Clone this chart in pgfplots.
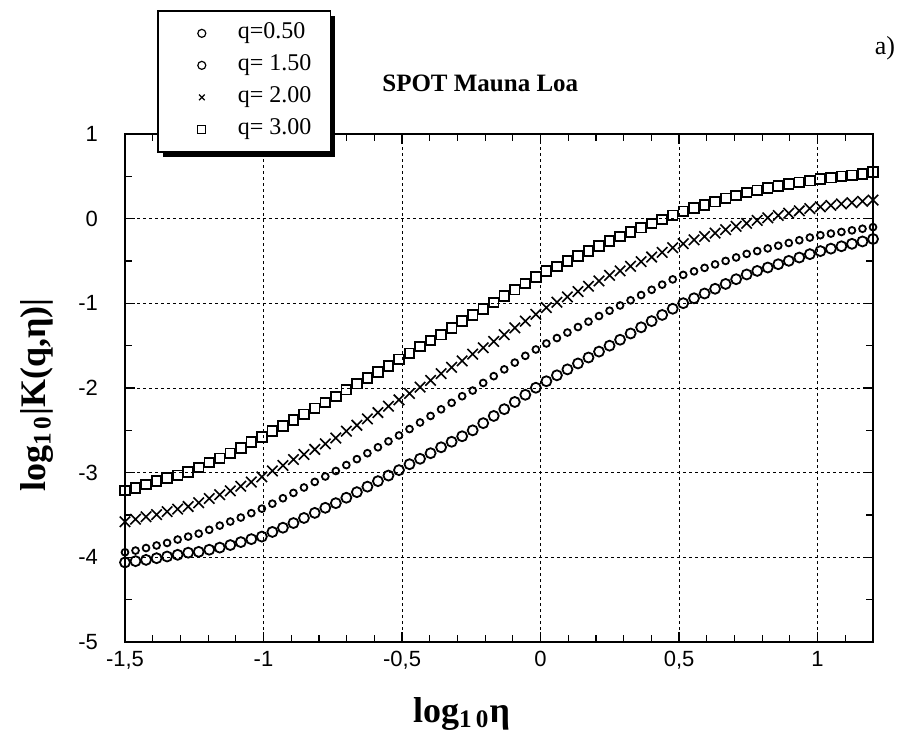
\documentclass[border=0pt]{standalone}
\usepackage{fontspec}
\setmainfont{Liberation Serif}
\newfontfamily\arial{Liberation Sans}
\usepackage{pgfplots}
\pgfplotsset{compat=1.18}
\usepackage{pgfplotstable}
\usetikzlibrary{shadows}

% log10 eta, then log10|K(q,eta)| for q = 0.5, 1.5, 2, 3
\pgfplotstableread{
x      q05     q15     q20     q30
-1.500 -4.06   -3.94   -3.58   -3.21
-1.462 -4.045  -3.92   -3.55   -3.18
-1.424 -4.03   -3.89   -3.52   -3.14
-1.386 -4.01   -3.86   -3.495  -3.10
-1.348 -3.99   -3.83   -3.46   -3.065
-1.310 -3.97   -3.79   -3.43   -3.03
-1.272 -3.945  -3.755  -3.40   -2.99
-1.234 -3.935  -3.72   -3.355  -2.94
-1.196 -3.91   -3.675  -3.305  -2.88
-1.158 -3.885  -3.625  -3.26   -2.83
-1.120 -3.855  -3.577  -3.215  -2.77
-1.082 -3.82   -3.53   -3.16   -2.71
-1.044 -3.785  -3.478  -3.11   -2.64
-1.006 -3.755  -3.425  -3.05   -2.58
-0.968 -3.70   -3.366  -2.98   -2.51
-0.930 -3.65   -3.302  -2.915  -2.45
-0.892 -3.595  -3.239  -2.845  -2.38
-0.854 -3.535  -3.175  -2.785  -2.31
-0.815 -3.475  -3.109  -2.725  -2.24
-0.777 -3.415  -3.045  -2.66   -2.17
-0.739 -3.36   -2.98   -2.59   -2.10
-0.701 -3.296  -2.91   -2.51   -2.02
-0.663 -3.23   -2.84   -2.44   -1.95
-0.625 -3.165  -2.77   -2.365  -1.88
-0.587 -3.10   -2.70   -2.29   -1.81
-0.549 -3.034  -2.63   -2.215  -1.74
-0.511 -2.97   -2.56   -2.14   -1.66
-0.473 -2.90   -2.485  -2.065  -1.59
-0.435 -2.836  -2.407  -1.99   -1.51
-0.397 -2.77   -2.33   -1.91   -1.44
-0.359 -2.70   -2.252  -1.83   -1.37
-0.321 -2.635  -2.175  -1.755  -1.29
-0.283 -2.57   -2.097  -1.68   -1.21
-0.245 -2.50   -2.03   -1.60   -1.14
-0.207 -2.415  -1.94   -1.525  -1.065
-0.169 -2.33   -1.86   -1.45   -0.99
-0.131 -2.25   -1.78   -1.37   -0.915
-0.093 -2.165  -1.70   -1.29   -0.84
-0.055 -2.08   -1.62   -1.21   -0.765
-0.017 -1.997  -1.545  -1.13   -0.69
 0.021 -1.92   -1.474  -1.05   -0.62
 0.059 -1.85   -1.41   -0.987  -0.565
 0.097 -1.78   -1.345  -0.924  -0.50
 0.135 -1.71   -1.28   -0.861  -0.44
 0.173 -1.64   -1.216  -0.798  -0.38
 0.211 -1.57   -1.15   -0.735  -0.325
 0.249 -1.50   -1.087  -0.67   -0.265
 0.287 -1.43   -1.025  -0.617  -0.21
 0.325 -1.356  -0.964  -0.562  -0.157
 0.363 -1.283  -0.902  -0.507  -0.107
 0.401 -1.21   -0.84   -0.453  -0.057
 0.439 -1.137  -0.779  -0.398  -0.01
 0.477 -1.064  -0.717  -0.343   0.04
 0.515 -0.998  -0.664  -0.295   0.088
 0.554 -0.94   -0.622  -0.25    0.125
 0.592 -0.884  -0.581  -0.21    0.163
 0.630 -0.828  -0.54   -0.17    0.20
 0.668 -0.771  -0.499  -0.13    0.24
 0.706 -0.715  -0.458  -0.09    0.273
 0.744 -0.659  -0.416  -0.055   0.31
 0.782 -0.617  -0.383  -0.02    0.336
 0.820 -0.577  -0.351   0.01    0.361
 0.858 -0.538  -0.319   0.038   0.384
 0.896 -0.498  -0.287   0.065   0.408
 0.934 -0.459  -0.255   0.093   0.43
 0.972 -0.419  -0.223   0.12    0.448
 1.010 -0.383  -0.195   0.14    0.468
 1.048 -0.354  -0.176   0.157   0.483
 1.086 -0.326  -0.157   0.175   0.50
 1.124 -0.297  -0.138   0.19    0.513
 1.162 -0.269  -0.119   0.205   0.53
 1.200 -0.24   -0.10    0.22    0.55
}\spotdata

\begin{document}
\begin{tikzpicture}
\begin{axis}[
    name=ax, at={(0,0)}, anchor=south west,
    scale only axis,
    width=374pt, height=254pt,
    xmin=-1.5, xmax=1.2,
    ymin=-5, ymax=1,
    clip=false,
    axis line style={line width=1pt},
    xtick={-1.5,-1,-0.5,0,0.5,1},
    xticklabels={{-1,5},{-1},{-0,5},{0},{0,5},{1}},
    minor xtick={-1.4,-1.3,-1.2,-1.1,-0.9,-0.8,-0.7,-0.6,-0.4,-0.3,-0.2,-0.1,0.1,0.2,0.3,0.4,0.6,0.7,0.8,0.9,1.1},
    ytick={-5,-4,-3,-2,-1,0,1},
    yticklabels={-5,-4,-3,-2,-1,0,1},
    minor ytick={-4.5,-3.5,-2.5,-1.5,-0.5,0.5},
    major tick length=5pt, minor tick length=3.5pt,
    tick style={black, line width=0.6pt},
    tick label style={font=\arial\fontsize{11}{13}\selectfont},
    yticklabel style={xshift=-10pt},
    xticklabel style={yshift=-1pt},
    grid=major,
    major grid style={black, line width=0.45pt, dash pattern=on 1.5pt off 1.5pt},
    xlabel={log\textsubscript{1\,0}η},
    ylabel={log\textsubscript{1\,0}|K(q,η)|},
    xlabel style={at={(axis description cs:0.45,-0.142)}, anchor=center,
        font=\bfseries\fontsize{18}{20}\selectfont},
    ylabel style={at={(axis description cs:-0.1176,0.486)}, anchor=center,
        font=\bfseries\fontsize{18}{20}\selectfont},
    legend style={at={(0.0428,1.244)}, anchor=north west,
        draw=black, line width=0.8pt, fill=white,
        inner xsep=7.5pt, inner ysep=3.5pt,
        row sep=0.5pt, column sep=1.5pt,
        nodes={inner sep=2pt, text height=8.5pt, text depth=3pt,
            font=\fontsize{12}{14}\selectfont},
        drop shadow={shadow xshift=2.5pt, shadow yshift=-2.5pt, fill=black, opacity=1}},
    legend cell align=left,
    legend image code/.code={%
        \pgfpathmoveto{\pgfqpoint{0pt}{0pt}}%
        \pgfpathlineto{\pgfqpoint{29pt}{0pt}}%
        \pgfusepath{discard}%
        \draw[#1, only marks]
            plot coordinates {(14.5pt,0pt)};},
    legend image post style={mark size=2pt, line width=0.6pt},
]

\addplot[only marks, black, mark=o, mark size=2.5pt, line width=0.9pt]
    table[x=x, y=q05] {\spotdata};
\addlegendentry{q=0.50}

\addplot[only marks, black, mark=o, mark size=1.7pt, line width=0.9pt]
    table[x=x, y=q15] {\spotdata};
\addlegendentry{q= 1.50}

\addplot[only marks, black, mark=x, mark size=3.7pt, line width=0.8pt]
    table[x=x, y=q20] {\spotdata};
\addlegendentry{q= 2.00}

\addplot[only marks, black, mark=square, mark size=2.4pt, line width=0.9pt]
    table[x=x, y=q30] {\spotdata};
\addlegendentry{q= 3.00}

\node[anchor=base, font=\bfseries\fontsize{12.5}{15}\selectfont]
    at (axis description cs:0.475,1.083) {SPOT Mauna Loa};
\node[font=\fontsize{13}{15}\selectfont]
    at (axis description cs:1.016,1.169) {a)};

\end{axis}
\pgfresetboundingbox
\path[use as bounding box] (-62.5pt,-51.5pt) rectangle (389pt,321pt);
\end{tikzpicture}
\end{document}
